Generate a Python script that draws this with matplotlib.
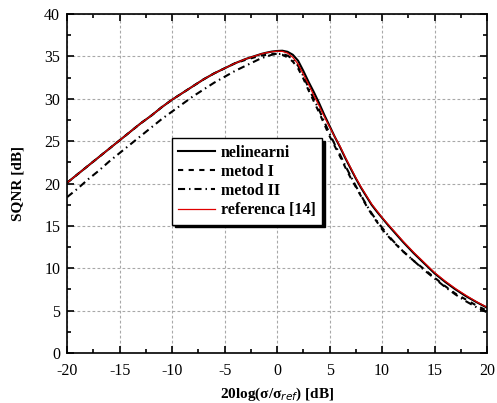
import matplotlib
matplotlib.use('Agg')
import matplotlib.pyplot as plt
from matplotlib.ticker import MultipleLocator

plt.rcParams['font.family'] = ['Liberation Serif', 'DejaVu Serif']
plt.rcParams['mathtext.fontset'] = 'custom'
plt.rcParams['mathtext.rm'] = 'Liberation Serif'
plt.rcParams['mathtext.bf'] = 'Liberation Serif:bold'
plt.rcParams['axes.unicode_minus'] = False

# x values (dB): whole steps on the tails, half steps around the peak
x = ([-20, -19, -18, -17, -16, -15, -14, -13, -12, -11, -10, -9, -8, -7, -6, -5, -4, -3]
     + [-2, -1.5, -1, -0.5, 0, 0.5, 1, 1.5, 2, 2.5, 3, 3.5, 4, 4.5, 5, 5.5, 6,
        6.5, 7, 7.5, 8, 8.5, 9, 9.5, 10, 10.5, 11]
     + [12, 13, 14, 15, 16, 17, 18, 19, 20])

# nelinearni
nelinearni = ([20.1, 21.1, 22.1, 23.1, 24.1, 25.1, 26.1, 27.1, 28.0, 29.0,
               29.9, 30.7, 31.5, 32.3, 33.0, 33.6, 34.2, 34.7]
              + [35.1, 35.3, 35.45, 35.58, 35.65, 35.68, 35.55, 35.2, 34.5, 33.3,
                 32.0, 30.8, 29.5, 28.1, 26.8, 25.5, 24.3, 23.0, 21.8, 20.6,
                 19.5, 18.5, 17.5, 16.7, 15.95, 15.2, 14.5]
              + [13.1, 11.8, 10.6, 9.4, 8.4, 7.5, 6.7, 6.0, 5.35])

# metod I
metod1 = ([20.1, 21.1, 22.1, 23.1, 24.1, 25.1, 26.1, 27.1, 28.0, 29.0,
           29.9, 30.7, 31.5, 32.3, 33.0, 33.6, 34.2, 34.6]
          + [34.95, 35.1, 35.2, 35.3, 35.3, 35.2, 34.9, 34.4, 33.6, 32.4,
             31.0, 29.7, 28.4, 27.0, 25.6, 24.4, 23.2, 21.9, 20.7, 19.6,
             18.5, 17.4, 16.4, 15.5, 14.6, 13.9, 13.2]
          + [12.0, 10.9, 9.9, 8.9, 7.9, 7.0, 6.3, 5.6, 5.0])

# metod II
metod2 = ([18.4, 19.4, 20.5, 21.5, 22.6, 23.6, 24.6, 25.6, 26.6, 27.6,
           28.5, 29.4, 30.3, 31.1, 31.9, 32.6, 33.3, 33.9]
          + [34.5, 34.8, 35.0, 35.2, 35.3, 35.3, 35.1, 34.7, 33.9, 32.7,
             31.3, 30.0, 28.7, 27.3, 25.9, 24.6, 23.4, 22.1, 20.9, 19.7,
             18.6, 17.5, 16.5, 15.6, 14.8, 14.0, 13.3]
          + [12.0, 10.9, 9.8, 8.8, 7.8, 6.9, 6.1, 5.4, 4.8])

# referenca [14]
referenca = ([20.1, 21.1, 22.1, 23.1, 24.1, 25.1, 26.1, 27.1, 28.0, 29.0,
              29.9, 30.7, 31.5, 32.3, 33.0, 33.6, 34.2, 34.7]
             + [35.1, 35.3, 35.45, 35.55, 35.62, 35.6, 35.4, 34.9, 34.1, 32.9,
                31.7, 30.4, 29.2, 27.9, 26.7, 25.5, 24.4, 23.1, 21.9, 20.7,
                19.6, 18.6, 17.6, 16.8, 16.0, 15.3, 14.6]
             + [13.2, 11.9, 10.7, 9.5, 8.5, 7.6, 6.8, 6.05, 5.4])

fig = plt.figure(figsize=(4.97, 4.03), dpi=100)
ax = fig.add_axes([0.135, 0.124, 0.845, 0.841])

ax.plot(x, nelinearni, color='black', lw=1.5, label='nelinearni')
ax.plot(x, metod1, color='black', lw=1.5, ls=(0, (2.5, 2.6)), label='metod I')
ax.plot(x, metod2, color='black', lw=1.5, ls=(0, (3.4, 1.9, 0.7, 1.9)), label='metod II')
ax.plot(x, referenca, color='#e00000', lw=0.9, label='referenca [14]')

ax.set_xlim(-20, 20)
ax.set_ylim(0, 40)
ax.xaxis.set_major_locator(MultipleLocator(5))
ax.xaxis.set_minor_locator(MultipleLocator(2.5))
ax.yaxis.set_major_locator(MultipleLocator(5))
ax.yaxis.set_minor_locator(MultipleLocator(2.5))
ax.tick_params(which='both', direction='in', top=True, right=True, width=1.2)
ax.tick_params(which='major', length=5, labelsize=11.5, pad=5)
ax.tick_params(axis='x', which='major', pad=7)
ax.tick_params(which='minor', length=3)
ax.grid(True, which='major', color='#a8a8a8', ls=(0, (2.5, 2)), lw=0.8)
for s in ax.spines.values():
    s.set_linewidth(1.2)

ax.set_xlabel(r'20log($\mathbf{\sigma}$/$\mathbf{\sigma}_{ref}$) [dB]',
              fontsize=11, fontweight='bold', labelpad=5)
ax.set_ylabel('SQNR [dB]', fontsize=11, fontweight='bold', labelpad=14)

leg = ax.legend(loc='upper left', bbox_to_anchor=(0.25, 0.634), borderaxespad=0,
                fancybox=False, edgecolor='black', framealpha=1,
                shadow={'color': 'black', 'alpha': 1},
                prop={'weight': 'bold', 'size': 11.5},
                handlelength=2.3, handletextpad=0.35, labelspacing=0.2, borderpad=0.4)
leg.get_frame().set_linewidth(1.0)

fig.savefig('out.png', dpi=100)
